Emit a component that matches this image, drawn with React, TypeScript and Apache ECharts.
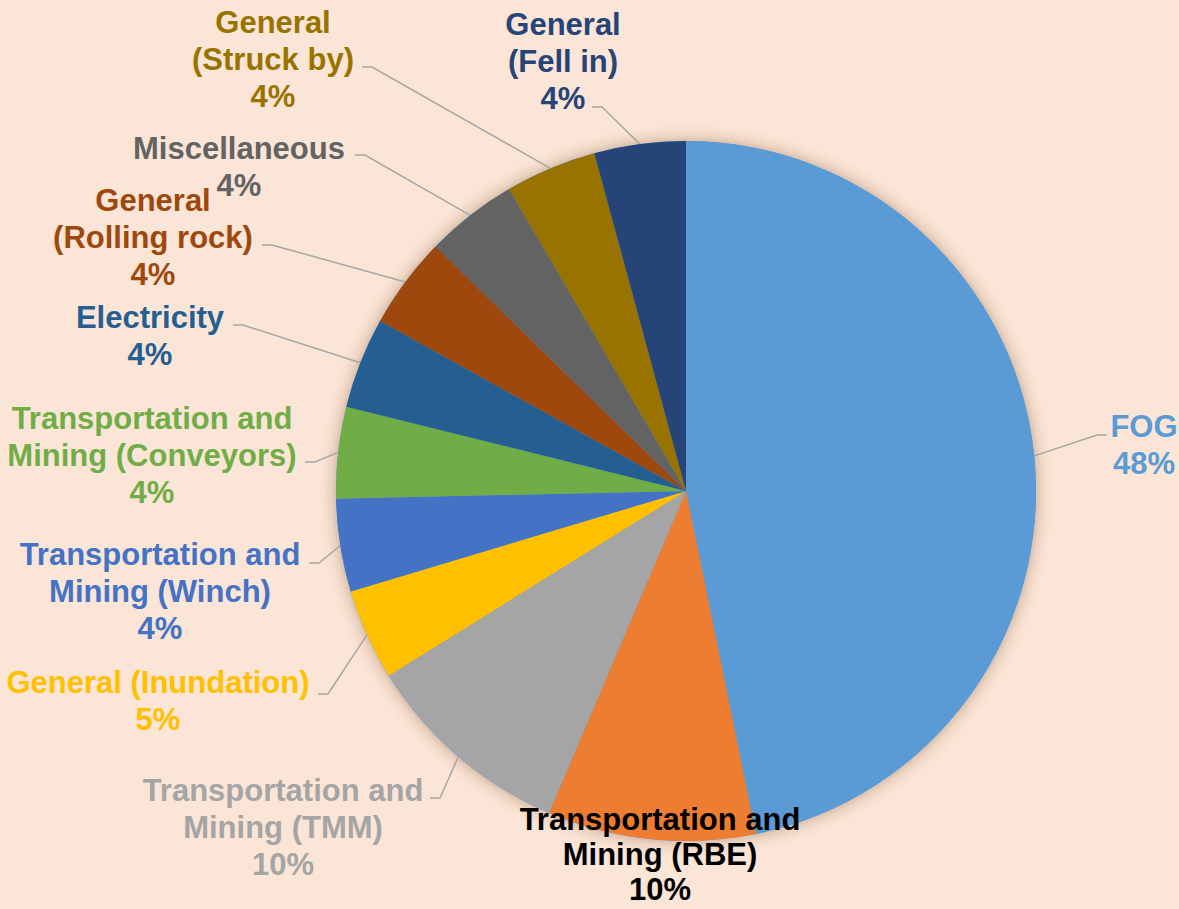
import React, { useEffect, useRef } from 'react';
import * as echarts from 'echarts';

// ---- data ----
const categories = [
  'FOG',
  'Transportation and\nMining (RBE)',
  'Transportation and\nMining (TMM)',
  'General (Inundation)',
  'Transportation and\nMining (Winch)',
  'Transportation and\nMining (Conveyors)',
  'Electricity',
  'General\n(Rolling rock)',
  'Miscellaneous',
  'General\n(Struck by)',
  'General\n(Fell in)',
];
// slice sizes as drawn (share of the circle, %)
const sliceShares = [46.8, 9.6, 9.75, 4.22, 4.28, 4.22, 4.2, 4.24, 4.25, 4.22, 4.22];
// percentages as printed on the labels
const percentLabels = [48, 10, 10, 5, 4, 4, 4, 4, 4, 4, 4];

// ---- styles / layout ----
const sliceColors = [
  '#5B9BD5', '#ED7D31', '#A5A5A5', '#FFC000', '#4472C4', '#70AD47',
  '#255E91', '#9E480E', '#636363', '#997300', '#264478',
];
const labelColors = [
  '#5B9BD5', '#000000', '#A5A5A5', '#FFC000', '#4472C4', '#70AD47',
  '#255E91', '#9E480E', '#636363', '#997300', '#264478',
];
const labelCenters: number[][] = [
  [1144, 445], [660, 854], [283, 827], [158, 701], [160, 591], [152, 455],
  [150, 336], [153, 237], [239, 167], [273, 59], [563, 61],
];
const labelLineHeights = [37, 35, 37, 37, 37, 37, 37, 37, 37, 37, 37];
const leaderEnds: (number[] | null)[] = [
  [1107, 435], null, [430, 798], [318, 694], [309, 563], [305, 462],
  [233, 325], [262, 245], [355, 155], [362, 67], [592, 107],
];

const PIE_CENTER = [686, 491];
const PIE_RADIUS = 350;
const FONT = "'Liberation Sans', Arial, sans-serif";

export default function App() {
  const ref = useRef<HTMLDivElement>(null);

  useEffect(() => {
    if (!ref.current) return;
    const chart = echarts.init(ref.current, undefined, { renderer: 'svg' });

    const data = categories.map((name, i) => ({
      name,
      value: sliceShares[i],
      itemStyle: { color: sliceColors[i] },
      label: { color: labelColors[i], lineHeight: labelLineHeights[i] },
      labelLine: { show: leaderEnds[i] != null },
    }));

    chart.setOption({
      animation: false,
      backgroundColor: '#FBE5D6',
      series: [
        {
          type: 'pie',
          silent: true,
          center: PIE_CENTER,
          radius: PIE_RADIUS,
          startAngle: 90,
          data: [{ value: 1, name: 'shadow', itemStyle: { color: '#5B9BD5' } }],
          label: { show: false },
          labelLine: { show: false },
          itemStyle: { shadowBlur: 16, shadowColor: 'rgba(90,50,20,0.4)' },
          emphasis: { disabled: true },
          z: 1,
        },
        {
          type: 'pie',
          silent: true,
          center: PIE_CENTER,
          radius: PIE_RADIUS,
          startAngle: 90,
          clockwise: true,
          avoidLabelOverlap: false,
          data,
          itemStyle: { borderWidth: 0 },
          emphasis: { disabled: true },
          label: {
            show: true,
            position: 'outside',
            formatter: (p: any) => `${p.name}\n${percentLabels[p.dataIndex]}%`,
            fontSize: 31,
            lineHeight: 37,
            fontWeight: 'bold',
            fontFamily: FONT,
            align: 'center',
          },
          labelLine: {
            show: true,
            length: 10,
            length2: 10,
            lineStyle: { color: '#A6A6A6', width: 1.5 },
          },
          labelLayout: (params: any) => {
            const i = params.dataIndex;
            const c = labelCenters[i];
            const res: any = { x: c[0], y: c[1], align: 'center', verticalAlign: 'middle' };
            const end = leaderEnds[i];
            const pts = params.labelLinePoints;
            if (end && pts && pts.length) {
              const start = pts[0];
              const elbowX = end[0] + (start[0] > end[0] ? 10 : -10);
              res.labelLinePoints = [start, [elbowX, end[1]], end];
            }
            return res;
          },
          z: 2,
        },
      ],
    });

    return () => chart.dispose();
  }, []);

  return (
    <div
      ref={ref}
      style={{ position: 'absolute', left: 0, top: 0, width: 1179, height: 909 }}
    />
  );
}
